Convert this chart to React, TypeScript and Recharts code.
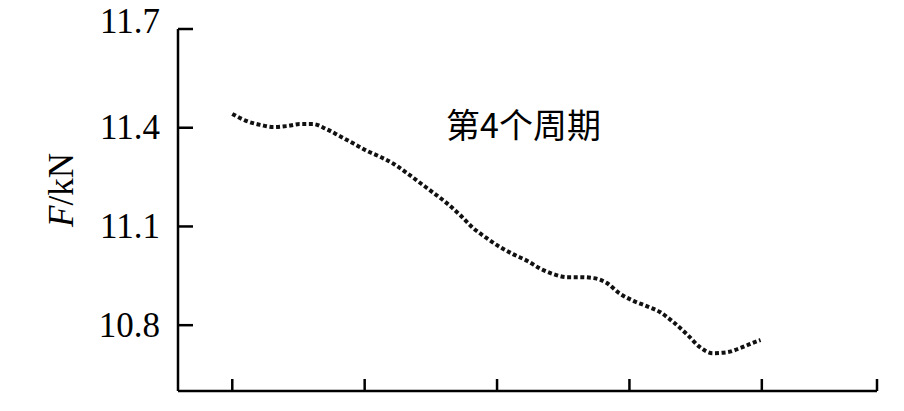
import { LineChart, Line, XAxis, YAxis, ReferenceDot } from 'recharts';

// position along the cycle (arbitrary units, unlabelled axis)
const positions = [
  0, 11, 22, 31, 41, 51, 61, 71, 81, 92, 102, 112, 122, 132, 143, 152, 162, 172, 182, 192, 202,
  212, 223, 233, 242, 253, 263, 273, 283, 292, 303, 313, 323, 333, 344, 353, 363, 374, 384, 393, 399,
];
// force F in kN
const forces = [
  11.442, 11.42, 11.408, 11.402, 11.405, 11.411, 11.411, 11.396, 11.375, 11.351, 11.329, 11.311,
  11.29, 11.262, 11.229, 11.202, 11.171, 11.135, 11.095, 11.065, 11.038, 11.016, 10.995, 10.971,
  10.956, 10.946, 10.946, 10.943, 10.928, 10.898, 10.874, 10.858, 10.84, 10.81, 10.77, 10.734,
  10.715, 10.718, 10.731, 10.746, 10.755,
];
const yTicks = [10.8, 11.1, 11.4, 11.7];
const xTicks = [0, 100, 200, 300, 400, 487];
const cycleLabel = '第4个周期';

const data = positions.map((p, i) => ({ p, f: forces[i] }));

const serif = '"Liberation Serif", "Times New Roman", serif';

// eslint-disable-next-line @typescript-eslint/no-explicit-any
function YTick({ x, y, payload }: any) {
  const up = payload.value === 11.7 ? -8 : 0;
  return (
    <g>
      <line x1={x} x2={x + 15} y1={y} y2={y} stroke="#000" strokeWidth={2.5} />
      <text x={x - 18} y={y + up} textAnchor="end" dominantBaseline="central"
        fontFamily={serif} fontSize={35} fill="#000">
        {payload.value.toFixed(1)}
      </text>
    </g>
  );
}

// eslint-disable-next-line @typescript-eslint/no-explicit-any
function XTick({ x, y }: any) {
  return <line x1={x} x2={x} y1={y} y2={y - 12} stroke="#000" strokeWidth={2.5} />;
}

// eslint-disable-next-line @typescript-eslint/no-explicit-any
function YTitle({ viewBox }: any) {
  const cx = viewBox.x + 61;
  const cy = viewBox.y + viewBox.height / 2 - 20;
  return (
    <text x={cx} y={cy} transform={`rotate(-90 ${cx} ${cy})`} textAnchor="middle"
      dominantBaseline="central" fontFamily={serif} fontSize={35} fill="#000">
      <tspan fontStyle="italic">F</tspan>/kN
    </text>
  );
}

// eslint-disable-next-line @typescript-eslint/no-explicit-any
function CycleText({ viewBox }: any) {
  return (
    <text x={viewBox.x} y={viewBox.y} textAnchor="middle" dominantBaseline="central"
      fontFamily='"Noto Sans CJK SC", sans-serif' fontSize={34} fill="#000">
      {cycleLabel}
    </text>
  );
}

export default function App() {
  return (
    <div style={{ position: 'absolute', left: 0, top: 0, background: '#fff' }}>
      <LineChart width={904} height={411} data={data}
        margin={{ top: 29, right: 27, bottom: 0, left: 0 }}>
        <XAxis dataKey="p" type="number" domain={[-41, 487]} ticks={xTicks} allowDataOverflow
          height={20} stroke="#000" axisLine={{ stroke: '#000', strokeWidth: 2.5 }}
          tickLine={false} tickSize={0} tickMargin={0} tick={<XTick />} />
        <YAxis type="number" domain={[10.6, 11.7]} ticks={yTicks} allowDataOverflow width={178}
          axisLine={{ stroke: '#000', strokeWidth: 2.5 }} tickLine={false} tickSize={0}
          tickMargin={0} tick={<YTick />} label={<YTitle />} />
        <Line type="monotone" dataKey="f" stroke="#111" strokeWidth={4}
          strokeDasharray="4 2.6" dot={false} isAnimationActive={false} />
        <ReferenceDot x={220} y={11.414} r={0} stroke="none" fill="none"
          label={<CycleText />} />
      </LineChart>
    </div>
  );
}
